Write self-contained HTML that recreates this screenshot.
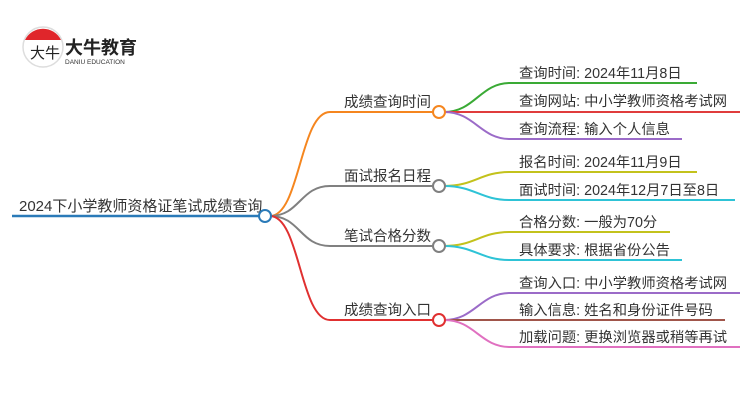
<!DOCTYPE html>
<html><head><meta charset="utf-8"><style>
html,body{margin:0;padding:0;background:#fff;}
svg text{font-family:"Liberation Sans","Noto Sans CJK SC",sans-serif;fill:#333;}
</style></head><body>
<svg width="750" height="410" viewBox="0 0 750 410" xmlns="http://www.w3.org/2000/svg">
<!-- logo -->
<circle cx="43" cy="47" r="20" fill="#fff" stroke="#ddd" stroke-width="1.5"/>
<path d="M25 40 A20 20 0 0 1 61 40 Z" fill="#e0262b"/>
<text x="30" y="58" font-size="15" style="fill:#222">大牛</text>
<text x="65" y="54" font-size="18" font-weight="bold" style="fill:#222">大牛教育</text>
<text x="65" y="64" font-size="6.5" style="fill:#333">DANIU EDUCATION</text>
<!-- root -->
<line x1="12" y1="216" x2="260" y2="216" stroke="#2a7ab8" stroke-width="2.5"/>
<text x="19" y="211" font-size="15">2024下小学教师资格证笔试成绩查询</text>
<!-- branches -->
<g fill="none" stroke-width="2">
<path d="M270 216 C300 216 300 112 330 112 H434" stroke="#f5861f"/>
<path d="M270 216 C300 216 300 186 330 186 H434" stroke="#808080"/>
<path d="M270 216 C300 216 300 246 330 246 H434" stroke="#808080"/>
<path d="M270 216 C300 216 300 320 330 320 H434" stroke="#e03030"/>
<!-- leaves -->
<path d="M444 112 C475 112 480 83 510 83 H697" stroke="#3aaa35"/>
<path d="M444 112 H740" stroke="#e03c3c"/>
<path d="M444 112 C475 112 480 139 510 139 H682" stroke="#9b6bc8"/>
<path d="M444 186 C475 186 480 172 510 172 H697" stroke="#c3c21c"/>
<path d="M444 186 C475 186 480 200 510 200 H735" stroke="#2ec3d6"/>
<path d="M444 246 C475 246 480 232 510 232 H670" stroke="#c3c21c"/>
<path d="M444 246 C475 246 480 260 510 260 H682" stroke="#2ec3d6"/>
<path d="M444 320 C475 320 480 293 510 293 H740" stroke="#9b6bc8"/>
<path d="M444 320 H725" stroke="#a0554a"/>
<path d="M444 320 C475 320 480 347 510 347 H740" stroke="#e070c0"/>
</g>
<g fill="#fff" stroke-width="2">
<circle cx="265" cy="216" r="6" stroke="#2a7ab8"/>
<circle cx="439" cy="112" r="6" stroke="#f5861f"/>
<circle cx="439" cy="186" r="6" stroke="#808080"/>
<circle cx="439" cy="246" r="6" stroke="#808080"/>
<circle cx="439" cy="320" r="6" stroke="#e03030"/>
</g>
<g font-size="14.5">
<text x="344" y="107">成绩查询时间</text>
<text x="344" y="181">面试报名日程</text>
<text x="344" y="241">笔试合格分数</text>
<text x="344" y="315">成绩查询入口</text>
</g>
<g font-size="14.3">
<text x="519" y="78">查询时间: 2024年11月8日</text>
<text x="519" y="106">查询网站: 中小学教师资格考试网</text>
<text x="519" y="134">查询流程: 输入个人信息</text>
<text x="519" y="167">报名时间: 2024年11月9日</text>
<text x="519" y="195">面试时间: 2024年12月7日至8日</text>
<text x="519" y="227">合格分数: 一般为70分</text>
<text x="519" y="255">具体要求: 根据省份公告</text>
<text x="519" y="288">查询入口: 中小学教师资格考试网</text>
<text x="519" y="315">输入信息: 姓名和身份证件号码</text>
<text x="519" y="342">加载问题: 更换浏览器或稍等再试</text>
</g>
</svg>
</body></html>
